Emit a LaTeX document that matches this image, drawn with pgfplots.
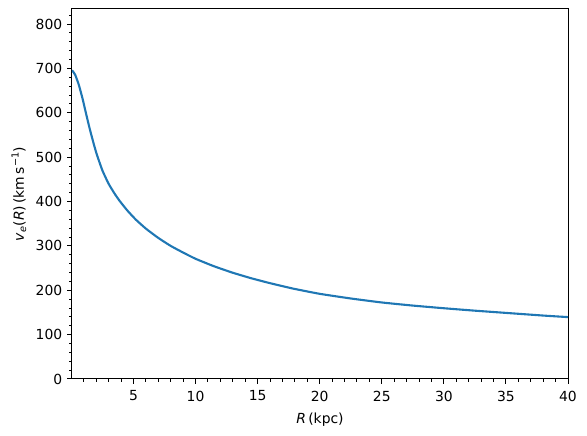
\documentclass[border=0pt]{standalone}
\usepackage{fontspec}
\setmainfont{DejaVu Sans}
\usepackage{pgfplots}
\pgfplotsset{compat=1.18}
\definecolor{mplblue}{HTML}{1F77B4}

\pgfplotstableread{
R v
0.05 696
0.3 686
0.6 663
0.9 632
1.1 608
1.45 567
1.8 530
2.05 506
2.5 470
3.0 440
3.5 417
3.9 401
4.5 380
5.2 359
6.0 339
7.0 318
8.0 300
9.0 285
10 271
11.5 254
13 239.5
14.5 227
16 216
17.9 203.5
20 192
22.5 181.5
25 172.5
27.5 165.5
30 159.5
32.5 154
35.5 148
38 143
40 139.5
}\vdata

\begin{document}
\fontsize{13.9}{16}\selectfont
\begin{tikzpicture}
\useasboundingbox (-72pt,-57pt) rectangle (515pt,379pt);
\begin{axis}[
    scale only axis,
    width=496pt, height=370pt,
    xmin=0.05, xmax=40,
    ymin=0, ymax=834,
    xtick={5,10,...,40},
    ytick={0,100,...,800},
    minor xtick={1,2,...,39},
    minor ytick={20,40,...,820},
    tick pos=left,
    tick align=outside,
    major tick length=4.9pt,
    minor tick length=2.8pt,
    every tick/.style={black, line width=1.0pt},
    axis line style={line width=1.0pt},
    /pgf/number format/assume math mode=true,
    ticklabel style={font=\fontsize{13.9}{16}\selectfont},
    xticklabel style={yshift=-2pt},
    label style={font=\fontsize{13.9}{16}\selectfont},
    xlabel style={yshift=-2pt},
    xlabel={\textit{R}\,(kpc)},
    ylabel={\textit{v}\textsubscript{\textit{e}}(\textit{R})\,(km\,s\textsuperscript{−1})},
]
\addplot[color=mplblue, line width=2.1pt, mark=none, smooth, tension=0.3] table[x=R, y=v] {\vdata};
\end{axis}
\end{tikzpicture}
\end{document}
